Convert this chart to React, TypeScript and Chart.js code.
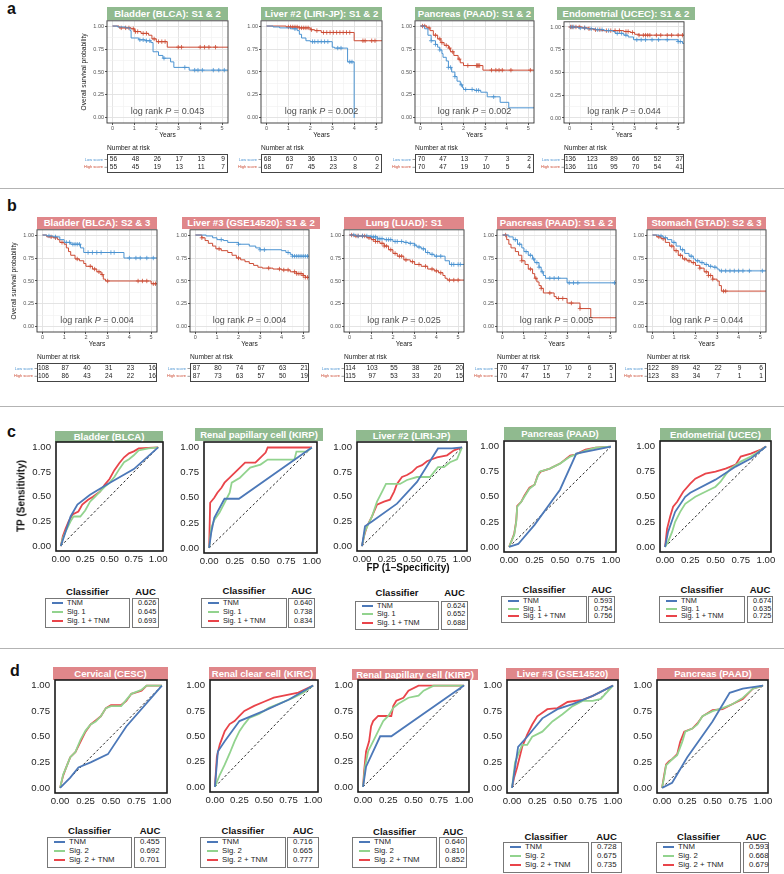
import React, { useEffect, useRef } from "react";
import { Chart, registerables } from "chart.js";

Chart.register(...registerables);

type Pt = [number, number];

const FONT = "'Liberation Sans', Arial, Helvetica, sans-serif";
const GREEN = "#90ba8f";
const PINK = "#e0878a";
const BLUE_KM = "#4b93d1";
const RED_KM = "#cc4b34";
const TNM_C = "#4c78b8";
const SIG_C = "#92d38e";
const COMB_C = "#e9444a";

// ---------- ticks / labels ----------
const kmXTicks = [0, 0.5, 1, 1.5, 2, 2.5, 3, 3.5, 4, 4.5, 5];
const kmYTicks = [0, 0.125, 0.25, 0.375, 0.5, 0.625, 0.75, 0.875, 1];
const riskTimes = [0, 1, 2, 3, 4, 5];
const rocTicks = [0, 0.25, 0.5, 0.75, 1];
const classifiersC = ["TNM", "Sig. 1", "Sig. 1 + TNM"];
const classifiersD = ["TNM", "Sig. 2", "Sig. 2 + TNM"];

// ---------- row a : KM ----------
const a1Low: Pt[] = [[0,1],[0.23,0.99],[0.6,0.98],[0.8,0.95],[0.85,0.87],[1.2,0.85],[1.5,0.84],[1.75,0.82],[1.85,0.72],[2.1,0.68],[2.3,0.65],[2.65,0.61],[2.8,0.55],[3.5,0.52],[5.3,0.52]];
const a1LowCens = [1.25,1.4,1.55,1.7,2.35,3.3,3.75,3.9,4.1,4.6,4.85,5.1];
const a1High: Pt[] = [[0,1],[0.3,0.98],[0.85,0.97],[1.0,0.94],[1.3,0.92],[1.65,0.9],[1.8,0.86],[2.0,0.83],[2.5,0.77],[5.3,0.77]];
const a1HighCens = [0.4,0.6,0.75,0.95,1.05,1.15,1.4,1.55,1.9,2.1,2.25,2.4,3.0,3.15,4.0,4.2,4.4,4.7];
const a1RiskLow = [56,48,26,17,13,9];
const a1RiskHigh = [55,45,19,13,11,7];

const a2Low: Pt[] = [[0,1],[0.3,0.99],[0.6,0.98],[1.1,0.97],[1.4,0.95],[1.5,0.91],[1.6,0.87],[1.8,0.84],[2.0,0.83],[3.0,0.77],[3.1,0.76],[3.7,0.61],[4.0,0.0]];
const a2LowCens = [1.3,2.1,2.2,2.35,2.5,2.65,2.8,3.25,3.4,3.8,3.9];
const a2High: Pt[] = [[0,1],[0.9,0.99],[1.5,0.98],[2.0,0.96],[2.2,0.95],[2.5,0.93],[4.0,0.84],[5.3,0.84]];
const a2HighCens = [1.0,1.1,1.2,1.3,1.4,1.5,1.6,1.7,1.8,1.9,2.05,2.3,2.6,2.75,2.9,3.05,3.2,3.35,3.5,3.65,3.8,4.4,4.5,4.8,4.95];
const a2RiskLow = [68,63,36,13,0,0];
const a2RiskHigh = [68,67,45,23,8,2];

const a3Low: Pt[] = [[0,1],[0.2,0.97],[0.35,0.9],[0.5,0.84],[0.7,0.8],[0.8,0.77],[0.9,0.74],[1.0,0.7],[1.05,0.66],[1.2,0.62],[1.3,0.55],[1.45,0.5],[1.6,0.45],[1.7,0.4],[1.85,0.36],[1.95,0.33],[2.0,0.31],[2.5,0.3],[2.8,0.28],[3.1,0.23],[3.7,0.17],[4.1,0.11],[5.3,0.11]];
const a3LowCens = [0.5,0.7,0.9,1.3,1.4,1.6,1.9,2.1,2.4,2.6,2.7,3.4];
const a3High: Pt[] = [[0,1],[0.3,0.98],[0.45,0.95],[0.6,0.9],[0.8,0.86],[0.95,0.82],[1.1,0.79],[1.3,0.76],[1.4,0.72],[1.55,0.68],[1.75,0.64],[1.85,0.6],[2.0,0.57],[2.9,0.52],[5.3,0.52]];
const a3HighCens = [0.1,0.2,0.4,0.7,0.9,1.0,1.2,1.35,1.5,1.8,2.2,2.6,2.65,2.7,2.75,3.3,3.5,3.65,3.8,4.2,5.1];
const a3RiskLow = [70,47,13,7,3,2];
const a3RiskHigh = [70,47,19,10,5,4];

const a4Low: Pt[] = [[0,1],[0.4,0.99],[0.8,0.98],[1.2,0.97],[1.6,0.96],[2.0,0.95],[2.1,0.93],[2.5,0.91],[2.7,0.89],[2.95,0.86],[4.9,0.86],[5.0,0.84],[5.2,0.82],[5.3,0.82]];
const a4LowCens = [0.1,0.2,0.5,0.7,1.0,1.3,1.5,1.8,2.2,2.4,2.6,3.1,3.3,3.5,3.8,4.1,4.5,5.0,5.1];
const a4High: Pt[] = [[0,1],[0.6,0.99],[0.9,0.98],[1.1,0.97],[1.5,0.96],[2.5,0.95],[2.8,0.94],[3.0,0.92],[3.2,0.91],[5.3,0.91]];
const a4HighCens = [0.05,0.15,0.3,0.45,0.7,0.9,1.2,1.4,1.7,1.9,2.1,2.3,2.6,2.7,2.9,3.2,3.4,3.5,3.6,3.7,4.0,4.2,4.5,4.7,5.0,5.2];
const a4RiskLow = [136,123,89,66,52,37];
const a4RiskHigh = [136,116,95,70,54,41];

// ---------- row b : KM ----------
const b1Low: Pt[] = [[0,1],[0.2,0.99],[0.5,0.98],[0.8,0.95],[1.0,0.92],[1.3,0.9],[1.75,0.86],[1.9,0.81],[3.75,0.75],[5.3,0.75]];
const b1LowCens = [0.3,0.6,1.1,1.25,1.4,1.5,1.6,1.7,2.1,2.3,2.5,2.7,3.15,3.3,4.0,4.3,4.5,4.8,5.1];
const b1High: Pt[] = [[0,1],[0.2,0.98],[0.5,0.97],[0.7,0.95],[0.8,0.92],[1.0,0.9],[1.1,0.86],[1.2,0.82],[1.3,0.78],[1.5,0.74],[1.7,0.72],[1.9,0.69],[2.0,0.66],[2.3,0.63],[2.5,0.6],[2.7,0.57],[2.8,0.52],[2.9,0.5],[5.0,0.47],[5.3,0.47]];
const b1HighCens = [0.4,0.6,0.9,1.6,2.2,2.4,2.6,2.75,3.0,4.4,4.6,4.8,5.1,5.2];
const b1RiskLow = [108,87,40,31,23,16];
const b1RiskHigh = [106,86,43,24,22,16];

const b2Low: Pt[] = [[0,1],[0.5,0.99],[0.8,0.97],[1.0,0.95],[1.3,0.94],[1.5,0.92],[2.0,0.9],[2.5,0.88],[2.8,0.86],[3.0,0.84],[4.0,0.83],[4.2,0.81],[4.4,0.79],[4.5,0.77],[5.3,0.77]];
const b2LowCens = [1.2,2.0,3.0,3.2,4.3,4.5,4.6,4.7,4.8,4.9,5.0,5.1,5.2];
const b2High: Pt[] = [[0,1],[0.3,0.97],[0.45,0.94],[0.6,0.91],[0.8,0.88],[0.95,0.85],[1.2,0.83],[1.5,0.81],[1.7,0.78],[1.9,0.75],[2.1,0.73],[2.3,0.71],[2.5,0.69],[2.7,0.67],[2.9,0.65],[3.1,0.64],[3.6,0.63],[4.0,0.62],[4.4,0.6],[4.7,0.58],[5.0,0.56],[5.1,0.54],[5.3,0.54]];
const b2HighCens = [0.3,1.1,2.0,3.4,3.9,4.1,4.3,4.6,4.7,4.8,4.9,5.0,5.1,5.2];
const b2RiskLow = [87,80,74,67,63,21];
const b2RiskHigh = [87,73,63,57,50,19];

const b3Low: Pt[] = [[0,1],[0.3,0.99],[1.0,0.98],[1.3,0.96],[1.6,0.95],[2.0,0.93],[2.5,0.92],[2.7,0.91],[3.0,0.89],[3.1,0.87],[3.3,0.85],[3.5,0.81],[3.7,0.79],[3.9,0.77],[4.4,0.72],[4.6,0.68],[5.3,0.68]];
const b3LowCens = [0.2,0.4,0.6,0.8,1.0,1.1,1.2,1.3,1.4,1.5,1.7,1.8,1.9,2.1,2.2,2.4,2.6,2.8,3.0,3.2,3.4,3.6,3.8,4.0,4.2,4.7,4.8,5.0,5.1];
const b3High: Pt[] = [[0,1],[0.2,0.99],[0.8,0.97],[1.0,0.95],[1.2,0.93],[1.4,0.91],[1.6,0.88],[1.8,0.84],[2.0,0.8],[2.2,0.77],[2.5,0.73],[2.8,0.71],[3.0,0.68],[3.3,0.66],[3.6,0.63],[3.9,0.61],[4.1,0.59],[4.3,0.56],[4.4,0.53],[4.5,0.51],[5.3,0.51]];
const b3HighCens = [0.1,0.3,0.4,0.6,0.7,0.9,1.1,1.2,1.3,1.5,1.6,1.7,1.9,2.1,2.3,2.4,2.6,2.9,3.2,3.5,3.8,4.0,4.2,4.6,4.8,5.0];
const b3RiskLow = [114,103,55,38,26,20];
const b3RiskHigh = [115,97,53,33,20,15];

const b4Low: Pt[] = [[0,1],[0.3,0.98],[0.5,0.95],[0.7,0.9],[0.9,0.86],[1.0,0.82],[1.2,0.78],[1.4,0.74],[1.5,0.7],[1.7,0.65],[1.8,0.6],[1.9,0.56],[2.0,0.53],[3.0,0.48],[5.3,0.48]];
const b4LowCens = [0.6,0.8,1.1,1.3,1.45,1.6,1.7,1.85,2.2,2.4,2.6,3.1,3.3,3.5,5.2];
const b4High: Pt[] = [[0,1],[0.2,0.95],[0.3,0.9],[0.4,0.86],[0.6,0.82],[0.75,0.78],[0.9,0.72],[1.05,0.68],[1.2,0.63],[1.4,0.58],[1.5,0.53],[1.6,0.49],[1.7,0.45],[1.8,0.42],[1.9,0.37],[2.4,0.33],[2.5,0.31],[3.0,0.26],[3.6,0.2],[4.1,0.1],[5.3,0.1]];
const b4HighCens = [0.15,0.9,1.3,1.55,1.8,2.2,2.6,2.8,3.2,3.6];
const b4RiskLow = [70,47,17,10,6,5];
const b4RiskHigh = [70,47,15,7,2,1];

const b5Low: Pt[] = [[0,1],[0.3,0.99],[0.5,0.97],[0.7,0.95],[0.9,0.92],[1.1,0.88],[1.3,0.84],[1.5,0.8],[1.7,0.77],[1.9,0.74],[2.0,0.72],[2.2,0.7],[2.4,0.68],[2.6,0.66],[2.8,0.65],[3.0,0.63],[3.1,0.61],[5.3,0.61]];
const b5LowCens = [0.4,0.6,1.0,1.4,1.8,2.1,2.3,2.5,2.7,2.9,3.2,3.4,3.6,3.8,4.0,4.2,4.5,5.1];
const b5High: Pt[] = [[0,1],[0.2,0.98],[0.4,0.96],[0.6,0.92],[0.8,0.88],[1.0,0.83],[1.2,0.78],[1.4,0.74],[1.6,0.72],[1.8,0.7],[2.0,0.67],[2.2,0.64],[2.4,0.6],[2.6,0.56],[2.8,0.52],[3.0,0.5],[3.1,0.45],[3.2,0.39],[5.3,0.39]];
const b5HighCens = [0.3,0.5,0.9,1.1,1.3,1.5,1.7,1.9,2.2,2.5,2.6,2.7,2.8,3.3,3.4];
const b5RiskLow = [122,89,42,22,9,6];
const b5RiskHigh = [123,83,34,7,1,1];

// ---------- row c : ROC ----------
const c1Tnm: Pt[] = [[0,0],[0.05,0.15],[0.1,0.3],[0.17,0.42],[0.3,0.52],[0.5,0.64],[0.75,0.78],[1,1]];
const c1Sig: Pt[] = [[0,0],[0.02,0.08],[0.05,0.15],[0.1,0.25],[0.13,0.3],[0.2,0.3],[0.25,0.36],[0.3,0.45],[0.35,0.5],[0.4,0.55],[0.45,0.6],[0.5,0.64],[0.55,0.7],[0.6,0.78],[0.65,0.85],[0.7,0.88],[0.75,0.92],[0.8,0.97],[0.9,0.99],[1,1]];
const c1Comb: Pt[] = [[0,0],[0.02,0.1],[0.05,0.18],[0.08,0.25],[0.12,0.32],[0.18,0.35],[0.22,0.42],[0.28,0.47],[0.33,0.5],[0.4,0.55],[0.45,0.62],[0.5,0.68],[0.55,0.77],[0.6,0.84],[0.65,0.9],[0.7,0.94],[0.75,0.96],[0.8,0.99],[1,1]];
const c1Auc = ["0.626","0.645","0.693"];

const c2Tnm: Pt[] = [[0,0],[0.02,0.15],[0.05,0.3],[0.15,0.49],[0.29,0.49],[1,1]];
const c2Sig: Pt[] = [[0,0],[0.02,0.2],[0.05,0.28],[0.1,0.35],[0.15,0.45],[0.2,0.55],[0.22,0.65],[0.3,0.7],[0.35,0.75],[0.4,0.8],[0.5,0.83],[0.57,0.88],[0.83,0.88],[0.85,0.96],[0.95,0.96],[1,1]];
const c2Comb: Pt[] = [[0,0],[0.01,0.45],[0.05,0.5],[0.08,0.55],[0.12,0.6],[0.15,0.65],[0.2,0.7],[0.25,0.75],[0.3,0.8],[0.35,0.85],[0.45,0.85],[0.5,0.9],[0.55,0.95],[0.57,1],[1,1]];
const c2Auc = ["0.640","0.738","0.834"];

const c3Tnm: Pt[] = [[0,0],[0.03,0.2],[0.1,0.25],[0.35,0.43],[0.55,0.65],[0.76,0.99],[0.9,0.99],[1,1]];
const c3Sig: Pt[] = [[0,0],[0.03,0.15],[0.1,0.3],[0.15,0.45],[0.2,0.55],[0.24,0.63],[0.38,0.63],[0.45,0.67],[0.55,0.7],[0.68,0.7],[0.72,0.75],[0.76,0.8],[0.82,0.8],[0.88,0.85],[0.95,0.88],[1,1]];
const c3Comb: Pt[] = [[0,0],[0.02,0.1],[0.05,0.2],[0.1,0.3],[0.15,0.42],[0.22,0.45],[0.28,0.47],[0.32,0.55],[0.35,0.63],[0.4,0.7],[0.45,0.72],[0.5,0.75],[0.55,0.8],[0.6,0.82],[0.65,0.86],[0.7,0.88],[0.75,0.9],[0.85,0.92],[0.92,0.97],[1,1]];
const c3Auc = ["0.624","0.652","0.688"];

const c4Tnm: Pt[] = [[0,0],[0.09,0.03],[0.25,0.22],[0.5,0.57],[0.66,0.93],[1,1]];
const c4Sig: Pt[] = [[0,0],[0.02,0.05],[0.05,0.12],[0.07,0.25],[0.08,0.4],[0.12,0.45],[0.15,0.5],[0.2,0.58],[0.25,0.62],[0.28,0.7],[0.3,0.75],[0.4,0.78],[0.5,0.83],[0.6,0.9],[0.65,0.92],[0.75,0.96],[0.85,0.99],[1,1]];
const c4Comb: Pt[] = [[0,0],[0.02,0.05],[0.05,0.13],[0.07,0.26],[0.08,0.41],[0.12,0.45],[0.15,0.51],[0.2,0.59],[0.25,0.62],[0.28,0.71],[0.31,0.75],[0.4,0.78],[0.5,0.83],[0.6,0.91],[0.65,0.92],[0.75,0.97],[0.85,0.99],[1,1]];
const c4Auc = ["0.593","0.754","0.756"];

const c5Tnm: Pt[] = [[0,0],[0.03,0.15],[0.1,0.35],[0.2,0.5],[0.25,0.54],[0.5,0.67],[0.7,0.8],[0.85,0.88],[1,1]];
const c5Sig: Pt[] = [[0,0],[0.03,0.05],[0.07,0.15],[0.1,0.25],[0.15,0.35],[0.2,0.43],[0.3,0.5],[0.4,0.55],[0.5,0.6],[0.55,0.65],[0.6,0.72],[0.65,0.78],[0.75,0.85],[0.85,0.9],[0.9,0.93],[1,1]];
const c5Comb: Pt[] = [[0,0],[0.02,0.18],[0.05,0.3],[0.08,0.4],[0.12,0.45],[0.18,0.55],[0.25,0.63],[0.3,0.68],[0.4,0.73],[0.5,0.75],[0.6,0.78],[0.7,0.82],[0.75,0.9],[0.85,0.93],[0.95,0.97],[1,1]];
const c5Auc = ["0.674","0.635","0.725"];

// ---------- row d : ROC ----------
const d1Tnm: Pt[] = [[0,0],[0.1,0.1],[0.18,0.2],[0.3,0.25],[0.47,0.33],[0.65,0.6],[1,1]];
const d1Sig: Pt[] = [[0,0],[0.03,0.13],[0.06,0.2],[0.1,0.3],[0.15,0.35],[0.2,0.47],[0.25,0.56],[0.3,0.62],[0.35,0.65],[0.4,0.7],[0.45,0.78],[0.5,0.8],[0.6,0.8],[0.65,0.86],[0.7,0.92],[0.8,0.96],[0.85,1.0],[1,1]];
const d1Comb: Pt[] = [[0,0],[0.03,0.12],[0.06,0.2],[0.1,0.3],[0.15,0.35],[0.2,0.45],[0.25,0.55],[0.3,0.62],[0.35,0.66],[0.4,0.7],[0.45,0.78],[0.5,0.81],[0.6,0.81],[0.65,0.85],[0.7,0.92],[0.8,0.95],[0.85,1.0],[1,1]];
const d1Auc = ["0.455","0.692","0.701"];

const d2Tnm: Pt[] = [[0,0],[0.03,0.35],[0.1,0.45],[0.25,0.65],[0.5,0.75],[0.75,0.86],[1,1]];
const d2Sig: Pt[] = [[0,0],[0.05,0.12],[0.1,0.22],[0.15,0.33],[0.2,0.45],[0.25,0.55],[0.3,0.62],[0.35,0.68],[0.45,0.72],[0.55,0.78],[0.65,0.82],[0.8,0.88],[0.9,0.93],[1,1]];
const d2Comb: Pt[] = [[0,0],[0.02,0.3],[0.05,0.42],[0.1,0.55],[0.15,0.62],[0.2,0.65],[0.25,0.7],[0.3,0.75],[0.4,0.8],[0.5,0.84],[0.6,0.88],[0.7,0.9],[0.85,0.93],[1,1]];
const d2Auc = ["0.716","0.665","0.777"];

const d3Tnm: Pt[] = [[0,0],[0.03,0.2],[0.17,0.5],[0.28,0.5],[1,1]];
const d3Sig: Pt[] = [[0,0],[0.02,0.2],[0.05,0.35],[0.1,0.45],[0.15,0.55],[0.2,0.65],[0.25,0.7],[0.3,0.78],[0.35,0.82],[0.4,0.85],[0.45,0.88],[0.55,0.9],[0.6,0.95],[0.7,1.0],[1,1]];
const d3Comb: Pt[] = [[0,0],[0.01,0.15],[0.03,0.35],[0.06,0.45],[0.08,0.6],[0.1,0.65],[0.15,0.7],[0.28,0.7],[0.3,0.8],[0.33,0.85],[0.4,0.88],[0.45,0.95],[0.55,1.0],[1,1]];
const d3Auc = ["0.640","0.810","0.852"];

const d4Tnm: Pt[] = [[0,0],[0.06,0.4],[0.15,0.5],[0.3,0.68],[0.45,0.77],[0.6,0.82],[0.8,0.9],[1,1]];
const d4Sig: Pt[] = [[0,0],[0.03,0.25],[0.07,0.35],[0.1,0.42],[0.15,0.42],[0.2,0.5],[0.3,0.55],[0.4,0.65],[0.5,0.72],[0.6,0.8],[0.7,0.85],[0.8,0.85],[0.88,0.87],[1,1]];
const d4Comb: Pt[] = [[0,0],[0.02,0.1],[0.05,0.2],[0.1,0.4],[0.15,0.52],[0.2,0.62],[0.25,0.7],[0.35,0.77],[0.45,0.78],[0.55,0.84],[0.7,0.86],[0.8,0.9],[0.9,0.95],[1,1]];
const d4Auc = ["0.728","0.675","0.735"];

const d5Tnm: Pt[] = [[0,0],[0.1,0.05],[0.25,0.3],[0.5,0.65],[0.67,0.93],[0.8,0.97],[1,1]];
const d5Sig: Pt[] = [[0,0],[0.02,0.1],[0.04,0.22],[0.07,0.25],[0.1,0.28],[0.15,0.32],[0.2,0.45],[0.23,0.55],[0.3,0.58],[0.35,0.62],[0.4,0.7],[0.5,0.75],[0.6,0.78],[0.7,0.82],[0.8,0.88],[0.9,0.97],[1,1]];
const d5Comb: Pt[] = [[0,0],[0.02,0.12],[0.04,0.23],[0.07,0.26],[0.1,0.28],[0.15,0.33],[0.18,0.45],[0.22,0.55],[0.3,0.58],[0.35,0.63],[0.4,0.7],[0.5,0.76],[0.6,0.77],[0.7,0.82],[0.8,0.87],[0.9,0.97],[1,1]];
const d5Auc = ["0.593","0.668","0.679"];

// ---------- layout configs ----------
type KMCfg = {
  box: number[]; tbox: number[]; title: string; color: string;
  low: Pt[]; lowC: number[]; high: Pt[]; highC: number[];
  rl: number[]; rh: number[]; p: string; yTitle: boolean;
};
const kmPanels: KMCfg[] = [
  { box: [107, 20, 228, 123], tbox: [107, 7, 228, 20], title: "Bladder (BLCA): S1 & 2", color: GREEN, low: a1Low, lowC: a1LowCens, high: a1High, highC: a1HighCens, rl: a1RiskLow, rh: a1RiskHigh, p: "0.043", yTitle: true },
  { box: [261, 20, 382, 123], tbox: [261, 7, 382, 20], title: "Liver #2 (LIRI-JP): S1 & 2", color: GREEN, low: a2Low, lowC: a2LowCens, high: a2High, highC: a2HighCens, rl: a2RiskLow, rh: a2RiskHigh, p: "0.002", yTitle: false },
  { box: [415, 20, 534, 123], tbox: [415, 7, 534, 20], title: "Pancreas (PAAD): S1 & 2", color: GREEN, low: a3Low, lowC: a3LowCens, high: a3High, highC: a3HighCens, rl: a3RiskLow, rh: a3RiskHigh, p: "0.002", yTitle: false },
  { box: [564, 21, 684, 123], tbox: [557, 7, 695, 20], title: "Endometrial (UCEC): S1 & 2", color: GREEN, low: a4Low, lowC: a4LowCens, high: a4High, highC: a4HighCens, rl: a4RiskLow, rh: a4RiskHigh, p: "0.044", yTitle: false },
  { box: [37, 229, 157, 332], tbox: [37, 217, 157, 229], title: "Bladder (BLCA): S2 & 3", color: PINK, low: b1Low, lowC: b1LowCens, high: b1High, highC: b1HighCens, rl: b1RiskLow, rh: b1RiskHigh, p: "0.004", yTitle: true },
  { box: [190, 229, 309, 332], tbox: [182, 217, 320, 229], title: "Liver #3 (GSE14520): S1 & 2", color: PINK, low: b2Low, lowC: b2LowCens, high: b2High, highC: b2HighCens, rl: b2RiskLow, rh: b2RiskHigh, p: "0.004", yTitle: false },
  { box: [344, 229, 464, 332], tbox: [344, 217, 464, 229], title: "Lung (LUAD): S1", color: PINK, low: b3Low, lowC: b3LowCens, high: b3High, highC: b3HighCens, rl: b3RiskLow, rh: b3RiskHigh, p: "0.025", yTitle: false },
  { box: [497, 229, 616, 332], tbox: [497, 217, 616, 229], title: "Pancreas (PAAD): S1 & 2", color: PINK, low: b4Low, lowC: b4LowCens, high: b4High, highC: b4HighCens, rl: b4RiskLow, rh: b4RiskHigh, p: "0.005", yTitle: false },
  { box: [647, 229, 766, 332], tbox: [647, 217, 766, 229], title: "Stomach (STAD): S2 & 3", color: PINK, low: b5Low, lowC: b5LowCens, high: b5High, highC: b5HighCens, rl: b5RiskLow, rh: b5RiskHigh, p: "0.044", yTitle: false },
];

type ROCCfg = {
  box: number[]; tbox: number[]; title: string; color: string;
  tnm: Pt[]; sig: Pt[]; comb: Pt[]; auc: string[]; names: string[];
  table: number[]; fs: number;
};
const rocPanels: ROCCfg[] = [
  { box: [56, 442, 163, 551], tbox: [55, 431, 163, 442], title: "Bladder (BLCA)", color: GREEN, tnm: c1Tnm, sig: c1Sig, comb: c1Comb, auc: c1Auc, names: classifiersC, table: [45, 130, 132, 159, 598, 30, 592], fs: 7.3 },
  { box: [204, 442, 317, 553], tbox: [195, 428, 323, 441], title: "Renal papillary cell (KIRP)", color: GREEN, tnm: c2Tnm, sig: c2Sig, comb: c2Comb, auc: c2Auc, names: classifiersC, table: [201, 287, 288, 315, 598, 30, 591], fs: 7.3 },
  { box: [357, 442, 467, 551], tbox: [356, 430, 467, 441], title: "Liver #2 (LIRI-JP)", color: GREEN, tnm: c3Tnm, sig: c3Sig, comb: c3Comb, auc: c3Auc, names: classifiersC, table: [355, 439, 441, 468, 601, 29, 593], fs: 7.3 },
  { box: [504, 441, 616, 552], tbox: [504, 427, 616, 440], title: "Pancreas (PAAD)", color: GREEN, tnm: c4Tnm, sig: c4Sig, comb: c4Comb, auc: c4Auc, names: classifiersC, table: [501, 587, 588, 615, 596, 27, 590], fs: 7.3 },
  { box: [660, 441, 771, 552], tbox: [660, 428, 771, 441], title: "Endometrial (UCEC)", color: GREEN, tnm: c5Tnm, sig: c5Sig, comb: c5Comb, auc: c5Auc, names: classifiersC, table: [659, 745, 747, 773, 596, 27, 590], fs: 7.3 },
  { box: [55, 680, 167, 793], tbox: [53, 667, 168, 680], title: "Cervical (CESC)", color: PINK, tnm: d1Tnm, sig: d1Sig, comb: d1Comb, auc: d1Auc, names: classifiersD, table: [47, 132, 134, 166, 837, 31, 831], fs: 7.8 },
  { box: [210, 680, 318, 792], tbox: [209, 667, 316, 680], title: "Renal clear cell (KIRC)", color: PINK, tnm: d2Tnm, sig: d2Sig, comb: d2Comb, auc: d2Auc, names: classifiersD, table: [200, 286, 287, 319, 837, 31, 831], fs: 7.8 },
  { box: [358, 680, 469, 792], tbox: [352, 669, 478, 680], title: "Renal papillary cell (KIRP)", color: PINK, tnm: d3Tnm, sig: d3Sig, comb: d3Comb, auc: d3Auc, names: classifiersD, table: [352, 437, 439, 467, 837, 31, 831.5], fs: 7.8 },
  { box: [507, 680, 618, 793], tbox: [506, 668, 619, 680], title: "Liver #3 (GSE14520)", color: PINK, tnm: d4Tnm, sig: d4Sig, comb: d4Comb, auc: d4Auc, names: classifiersD, table: [503, 589, 591, 622, 842, 31, 836.5], fs: 7.8 },
  { box: [657, 680, 768, 793], tbox: [657, 668, 769, 680], title: "Pancreas (PAAD)", color: PINK, tnm: d5Tnm, sig: d5Sig, comb: d5Comb, auc: d5Auc, names: classifiersD, table: [656, 741, 743, 769, 842, 31, 836.5], fs: 7.8 },
];

function survivalAt(steps: Pt[], t: number): number {
  let s = steps[0][1];
  for (const [tt, v] of steps) if (tt <= t) s = v;
  return s;
}
const toXY = (pts: Pt[]) => pts.map(([x, y]) => ({ x, y }));

function StripTitle({ tbox, title, color, fs }: { tbox: number[]; title: string; color: string; fs: number }) {
  const [x1, y1, x2, y2] = tbox;
  return (
    <div style={{ position: "absolute", left: x1, top: y1, width: x2 - x1, height: y2 - y1, background: color, color: "#fff", fontFamily: FONT, fontWeight: "bold", fontSize: fs, lineHeight: `${y2 - y1}px`, textAlign: "center", whiteSpace: "nowrap", overflow: "visible" }}>
      {title}
    </div>
  );
}

function KMPanel({ cfg }: { cfg: KMCfg }) {
  const ref = useRef<HTMLCanvasElement | null>(null);
  const [L, T, R, B] = cfg.box.map(Math.round);
  const padL = 30, padT = 4, padR = 6, padB = 52, yW = 14, xH = 10;
  const W = R - L + padL + padR, H = B - T + padT + padB;
  useEffect(() => {
    const isMajorY = (v: number) => Math.abs(v * 4 - Math.round(v * 4)) < 1e-6;
    const isMajorX = (v: number) => Math.abs(v - Math.round(v)) < 1e-6;
    const plugin = {
      id: "kmExtras",
      afterDraw(chart: any) {
        const { ctx, chartArea: ca } = chart;
        const xs = chart.scales.x, ys = chart.scales.y;
        ctx.save();
        ctx.strokeStyle = "#333";
        ctx.lineWidth = 0.9;
        ctx.strokeRect(ca.left, ca.top, ca.right - ca.left, ca.bottom - ca.top);
        // log rank text
        const fs = 9;
        const segs = [
          { t: "log rank ", f: `${fs}px ${FONT}`, w: 0 },
          { t: "P", f: `italic ${fs}px ${FONT}`, w: 0 },
          { t: ` = ${cfg.p}`, f: `${fs}px ${FONT}`, w: 0 },
        ];
        let tot = 0;
        for (const s of segs) { ctx.font = s.f; s.w = ctx.measureText(s.t).width; tot += s.w; }
        let x = (ca.left + ca.right) / 2 - tot / 2;
        const cy = ys.getPixelForValue(0.075);
        ctx.fillStyle = "#4f4f4f";
        ctx.textAlign = "left";
        ctx.textBaseline = "middle";
        for (const s of segs) { ctx.font = s.f; ctx.fillText(s.t, x, cy); x += s.w; }
        // Years
        ctx.fillStyle = "#222";
        ctx.font = `6.6px ${FONT}`;
        ctx.textAlign = "center";
        ctx.fillText("Years", (ca.left + ca.right) / 2, ca.bottom + 12);
        // y title
        if (cfg.yTitle) {
          ctx.save();
          ctx.translate(ca.left - 23, (ca.top + ca.bottom) / 2);
          ctx.rotate(-Math.PI / 2);
          ctx.fillText("Overall survival probability", 0, 0);
          ctx.restore();
        }
        // Number at risk
        ctx.textAlign = "left";
        ctx.fillText("Number at risk", ca.left, ca.bottom + 25);
        const tTop = ca.bottom + 31, tH = 18;
        ctx.strokeStyle = "#444";
        ctx.lineWidth = 1;
        ctx.strokeRect(ca.left + 0.5, tTop + 0.5, ca.right - ca.left - 1, tH);
        ctx.font = `6.6px ${FONT}`;
        ctx.textAlign = "center";
        ctx.fillStyle = "#222";
        riskTimes.forEach((t, i) => {
          const px = xs.getPixelForValue(t);
          ctx.fillText(String(cfg.rl[i]), px + 1, tTop + 5.5);
          ctx.fillText(String(cfg.rh[i]), px + 1, tTop + 13.3);
        });
        ctx.font = `4px ${FONT}`;
        ctx.textAlign = "right";
        ctx.fillStyle = BLUE_KM;
        ctx.fillText("Low score", ca.left - 4, tTop + 5.5);
        ctx.fillStyle = RED_KM;
        ctx.fillText("High score", ca.left - 4, tTop + 13.3);
        ctx.strokeStyle = "#555";
        ctx.lineWidth = 0.6;
        ctx.beginPath();
        ctx.moveTo(ca.left - 2.5, tTop + 5.5); ctx.lineTo(ca.left, tTop + 5.5);
        ctx.moveTo(ca.left - 2.5, tTop + 13.3); ctx.lineTo(ca.left, tTop + 13.3);
        ctx.stroke();
        ctx.restore();
      },
    };
    const tickFont = { family: FONT, size: 5.5 };
    const chart = new Chart(ref.current as HTMLCanvasElement, {
      type: "line",
      data: {
        datasets: [
          { data: toXY(cfg.low), stepped: true, borderColor: BLUE_KM, borderWidth: 1, pointRadius: 0, fill: false },
          { data: toXY(cfg.high), stepped: true, borderColor: RED_KM, borderWidth: 1, pointRadius: 0, fill: false },
          { data: cfg.lowC.map((t) => ({ x: t, y: survivalAt(cfg.low, t) })), showLine: false, pointStyle: "cross", pointRadius: 2.2, pointBorderColor: BLUE_KM, pointBackgroundColor: BLUE_KM, pointBorderWidth: 0.8 },
          { data: cfg.highC.map((t) => ({ x: t, y: survivalAt(cfg.high, t) })), showLine: false, pointStyle: "cross", pointRadius: 2.2, pointBorderColor: RED_KM, pointBackgroundColor: RED_KM, pointBorderWidth: 0.8 },
        ],
      } as any,
      options: {
        animation: false,
        responsive: false,
        events: [],
        layout: { padding: { left: padL - yW, top: padT, right: padR, bottom: padB - xH } },
        plugins: { legend: { display: false }, tooltip: { enabled: false } },
        scales: {
          x: {
            type: "linear", min: -0.25, max: 5.27,
            afterBuildTicks: (s: any) => { s.ticks = kmXTicks.map((v) => ({ value: v })); },
            afterFit: (s: any) => { s.height = xH; s.paddingLeft = 0; s.paddingRight = 0; },
            ticks: { callback: (v: any) => (isMajorX(Number(v)) ? String(Math.round(Number(v))) : ""), font: tickFont, color: "#555", padding: 0.5, maxRotation: 0, autoSkip: false },
            grid: { color: (c: any) => (c.tick && isMajorX(c.tick.value) ? "#e1e1e1" : "#f0f0f0"), lineWidth: (c: any) => (c.tick && isMajorX(c.tick.value) ? 0.9 : 0.6), tickColor: (c: any) => (c.tick && isMajorX(c.tick.value) ? "#444" : "rgba(0,0,0,0)"), tickLength: 2 },
            border: { display: false },
          },
          y: {
            type: "linear", min: -0.055, max: 1.057,
            afterBuildTicks: (s: any) => { s.ticks = kmYTicks.map((v) => ({ value: v })); },
            afterFit: (s: any) => { s.width = yW; s.paddingTop = 0; s.paddingBottom = 0; },
            ticks: { callback: (v: any) => (isMajorY(Number(v)) ? Number(v).toFixed(2) : ""), font: tickFont, color: "#555", padding: 1, autoSkip: false },
            grid: { color: (c: any) => (c.tick && isMajorY(c.tick.value) ? "#e1e1e1" : "#f0f0f0"), lineWidth: (c: any) => (c.tick && isMajorY(c.tick.value) ? 0.9 : 0.6), tickColor: (c: any) => (c.tick && isMajorY(c.tick.value) ? "#444" : "rgba(0,0,0,0)"), tickLength: 2 },
            border: { display: false },
          },
        },
      } as any,
      plugins: [plugin],
    });
    return () => chart.destroy();
  }, []);
  return (
    <canvas ref={ref} width={W} height={H} style={{ position: "absolute", left: L - padL, top: T - padT, width: W, height: H }} />
  );
}

function ROCPanel({ cfg }: { cfg: ROCCfg }) {
  const ref = useRef<HTMLCanvasElement | null>(null);
  const [L, T, R, B] = cfg.box.map(Math.round);
  const padL = 34, padT = 4, padR = 14, padB = 18, yW = 32, xH = 16;
  const W = R - L + padL + padR, H = B - T + padT + padB;
  useEffect(() => {
    const plugin = {
      id: "rocBorder",
      afterDraw(chart: any) {
        const { ctx, chartArea: ca } = chart;
        ctx.save();
        ctx.strokeStyle = "#1a1a1a";
        ctx.lineWidth = 1.6;
        ctx.strokeRect(ca.left, ca.top, ca.right - ca.left, ca.bottom - ca.top);
        ctx.restore();
      },
    };
    const tickFont = { family: FONT, size: 9.6 };
    const chart = new Chart(ref.current as HTMLCanvasElement, {
      type: "line",
      data: {
        datasets: [
          { data: toXY(cfg.tnm), borderColor: TNM_C, borderWidth: 1.8, pointRadius: 0, tension: 0, fill: false },
          { data: toXY(cfg.sig), borderColor: SIG_C, borderWidth: 1.8, pointRadius: 0, tension: 0, fill: false },
          { data: toXY(cfg.comb), borderColor: COMB_C, borderWidth: 1.8, pointRadius: 0, tension: 0, fill: false },
          { data: [{ x: 0, y: 0 }, { x: 1, y: 1 }], borderColor: "#111", borderWidth: 0.9, borderDash: [2.5, 2.2], pointRadius: 0, fill: false },
        ],
      } as any,
      options: {
        animation: false,
        responsive: false,
        events: [],
        layout: { padding: { left: padL - yW, top: padT, right: padR, bottom: padB - xH } },
        plugins: { legend: { display: false }, tooltip: { enabled: false } },
        scales: {
          x: {
            type: "linear", min: -0.05, max: 1.05,
            afterBuildTicks: (s: any) => { s.ticks = rocTicks.map((v) => ({ value: v })); },
            afterFit: (s: any) => { s.height = xH; s.paddingLeft = 0; s.paddingRight = 0; },
            ticks: { callback: (v: any) => Number(v).toFixed(2), font: tickFont, color: "#1e1e1e", padding: 3, maxRotation: 0, autoSkip: false },
            grid: { display: false, drawTicks: false },
            border: { display: false },
          },
          y: {
            type: "linear", min: -0.05, max: 1.055,
            afterBuildTicks: (s: any) => { s.ticks = rocTicks.map((v) => ({ value: v })); },
            afterFit: (s: any) => { s.width = yW; s.paddingTop = 0; s.paddingBottom = 0; },
            ticks: { callback: (v: any) => Number(v).toFixed(2), font: tickFont, color: "#1e1e1e", padding: 5, autoSkip: false },
            grid: { display: false, drawTicks: false },
            border: { display: false },
          },
        },
      } as any,
      plugins: [plugin],
    });
    return () => chart.destroy();
  }, []);
  return (
    <canvas ref={ref} width={W} height={H} style={{ position: "absolute", left: L - padL, top: T - padT, width: W, height: H }} />
  );
}

function AucTable({ cfg }: { cfg: ROCCfg }) {
  const [left, mid, aucL, right, top, h, hy] = cfg.table;
  const fs = cfg.fs;
  const colors = [TNM_C, SIG_C, COMB_C];
  const rowY = (i: number) => top + h * 0.175 + i * h * 0.29;
  const base = { position: "absolute" as const, fontFamily: FONT, color: "#222", whiteSpace: "nowrap" as const };
  return (
    <>
      <div style={{ ...base, left, top: hy - 6, width: mid - left, height: 12, lineHeight: "12px", textAlign: "center", fontWeight: "bold", fontSize: 9.5, color: "#111" }}>Classifier</div>
      <div style={{ ...base, left: aucL, top: hy - 6, width: right - aucL, height: 12, lineHeight: "12px", textAlign: "center", fontWeight: "bold", fontSize: 9.5, color: "#111" }}>AUC</div>
      <div style={{ position: "absolute", left, top, width: mid - left, height: h, border: "1px solid #777", boxSizing: "border-box" }} />
      <div style={{ position: "absolute", left: aucL, top, width: right - aucL, height: h, border: "1px solid #777", boxSizing: "border-box" }} />
      {cfg.names.map((n, i) => (
        <React.Fragment key={n}>
          <div style={{ position: "absolute", left: left + 7, top: rowY(i) - 1, width: 11, height: 2, background: colors[i] }} />
          <div style={{ ...base, left: left + 22, top: rowY(i) - 5, height: 10, lineHeight: "10px", fontSize: fs }}>{n}</div>
          <div style={{ ...base, left: aucL + 6, top: rowY(i) - 5, height: 10, lineHeight: "10px", fontSize: fs }}>{cfg.auc[i]}</div>
        </React.Fragment>
      ))}
    </>
  );
}

function Letter({ ch, x, baseline }: { ch: string; x: number; baseline: number }) {
  return (
    <div style={{ position: "absolute", left: x, top: baseline - 13.5, fontFamily: FONT, fontWeight: "bold", fontSize: 16, lineHeight: "16px", color: "#111" }}>{ch}</div>
  );
}

export default function App() {
  const sepStyle = (y: number) => ({ position: "absolute" as const, left: 0, top: y, width: 784, height: 1, background: "#b3b3b3" });
  return (
    <div style={{ position: "absolute", left: 0, top: 0, width: 784, height: 874, background: "#fff", overflow: "hidden" }}>
      <Letter ch="a" x={7} baseline={14} />
      <Letter ch="b" x={7} baseline={211.5} />
      <Letter ch="c" x={7} baseline={437.5} />
      <Letter ch="d" x={10} baseline={676.5} />
      <div style={sepStyle(188)} />
      <div style={sepStyle(406)} />
      <div style={sepStyle(648)} />
      {kmPanels.map((c) => (
        <StripTitle key={"t" + c.title + c.box[0]} tbox={c.tbox} title={c.title} color={c.color} fs={9.6} />
      ))}
      {rocPanels.map((c) => (
        <StripTitle key={"r" + c.title + c.box[0]} tbox={c.tbox} title={c.title} color={c.color} fs={9.5} />
      ))}
      {kmPanels.map((c) => (
        <KMPanel key={"k" + c.box[0] + "_" + c.box[1]} cfg={c} />
      ))}
      {rocPanels.map((c) => (
        <ROCPanel key={"p" + c.box[0] + "_" + c.box[1]} cfg={c} />
      ))}
      {rocPanels.map((c) => (
        <AucTable key={"a" + c.box[0] + "_" + c.box[1]} cfg={c} />
      ))}
      <div style={{ position: "absolute", left: 21, top: 496, transform: "translate(-50%, -50%) rotate(-90deg)", fontFamily: FONT, fontWeight: "bold", fontSize: 10, whiteSpace: "nowrap", color: "#111" }}>TP (Sensitivity)</div>
      <div style={{ position: "absolute", left: 408, top: 567, transform: "translate(-50%, -50%)", fontFamily: FONT, fontWeight: "bold", fontSize: 10, whiteSpace: "nowrap", color: "#111" }}>FP (1–Specificity)</div>
    </div>
  );
}
